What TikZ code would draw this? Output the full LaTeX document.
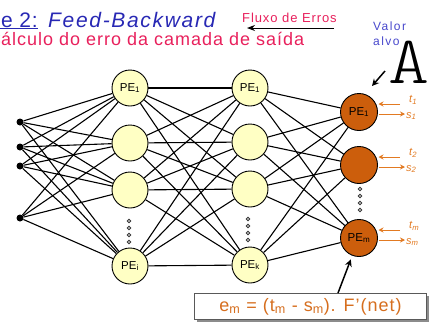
\documentclass[tikz,border=0pt]{standalone}
\usepackage{fontspec}
\setmainfont{Liberation Sans}
\newfontfamily\Alight{lmmonolt10-regular.otf}
\usetikzlibrary{arrows.meta,backgrounds,calc,shadows}
\definecolor{pebg}{RGB}{255,255,196}
\definecolor{outfill}{RGB}{204,94,12}
\definecolor{orangeA}{RGB}{226,122,34}
\definecolor{titleblue}{RGB}{40,40,180}
\definecolor{pinkred}{RGB}{232,32,92}
\definecolor{valblue}{RGB}{72,72,204}
\definecolor{formorange}{RGB}{214,110,30}
\tikzset{
  hid/.style={circle, draw=black, line width=0.9pt, fill=pebg, minimum size=36pt, inner sep=0pt, font=\fontsize{11.5}{11.5}\selectfont},
  outn/.style={hid, fill=outfill, minimum size=37pt},
  inp/.style={circle, fill=black, minimum size=7pt, inner sep=0pt},
  conn/.style={line width=1.1pt},
  vdot/.style={circle, draw=black!80, line width=0.9pt, minimum size=3.5pt, inner sep=0pt},
  tarrow/.style={draw=orangeA, line width=1pt, -{Stealth[length=5pt,width=5pt]}},
  tlab/.style={text=orangeA, font=\fontsize{11}{11}\selectfont\itshape, inner sep=0pt, anchor=west},
  blackarrow/.style={line width=1.5pt, -{Stealth[length=7pt,width=7pt]}}
}
\begin{document}
\begin{tikzpicture}[x=1pt,y=-1pt]
\useasboundingbox (0,0) rectangle (432,330);
% titles
\node[anchor=base west, inner sep=0pt, text=titleblue, font=\fontsize{21}{21}\selectfont\addfontfeatures{LetterSpace=4}] (t1) at (-10.5,27) {\llap{\underline{Fa}}\underline{se 2:}};
\node[anchor=base west, inner sep=0pt, text=titleblue, font=\fontsize{21}{21}\selectfont\itshape\addfontfeatures{LetterSpace=8}] (t2) at (48,27) {Feed-Backward};
\node[anchor=base west, inner sep=0pt, text=pinkred, font=\fontsize{18}{18}\selectfont\addfontfeatures{LetterSpace=5.5}] (t3) at (1,45) {\llap{C}álculo do erro da camada de saída};
\node[anchor=base west, inner sep=0pt, text=pinkred, font=\fontsize{13}{13}\selectfont\addfontfeatures{LetterSpace=7}] (flux) at (242,22) {Fluxo de Erros};
\coordinate (fl1) at (334,28);
\coordinate (fl2) at (247,28);
\draw[line width=1pt, -{Stealth[length=8pt,width=6pt]}] (fl1) -- (fl2);
\node[anchor=base west, inner sep=0pt, text=valblue, font=\fontsize{12}{12}\selectfont\addfontfeatures{LetterSpace=12}] (val) at (373,30) {Valor};
\node[anchor=base west, inner sep=0pt, text=valblue, font=\fontsize{12}{12}\selectfont\addfontfeatures{LetterSpace=12}] (alvo) at (373,45) {alvo};
\node[anchor=south, inner sep=0pt] (bigA) at (409.5,84) {\scalebox{1.15}[1]{\fontsize{68}{68}\Alight A}};
\coordinate (aa1) at (385,71);
\coordinate (aa2) at (372,86);
\draw[blackarrow] (aa1) -- (aa2);
% input
\node[inp] (i1) at (20,122) {};
\node[inp] (i2) at (20,147) {};
\node[inp] (i3) at (20,166) {};
\node[inp] (i4) at (20,218) {};
% hidden 1
\node[hid] (h1) at (130,88) {PE\textsubscript{1}};
\node[hid] (h2) at (130,143) {};
\node[hid] (h3) at (130,190) {};
\node[hid] (h4) at (130,266) {PE\textsubscript{i}};
% hidden 2
\node[hid] (g1) at (250,88) {PE\textsubscript{1}};
\node[hid] (g2) at (250,142) {};
\node[hid] (g3) at (250,189) {};
\node[hid] (g4) at (250,265) {PE\textsubscript{k}};
% output
\node[outn] (o1) at (359,112) {PE\textsubscript{1}};
\node[outn] (o2) at (359,165) {};
\node[outn] (o3) at (359,238) {PE\textsubscript{m}};
% vertical dots
\foreach \y [count=\n] in {221,228,235,242} \node[vdot] (da\n) at (129,\y) {};
\foreach \y [count=\n] in {219,226,233,240} \node[vdot] (db\n) at (248,\y) {};
\foreach \y [count=\n] in {189,196,203,210} \node[vdot] (dc\n) at (360,\y) {};
% connections
\begin{scope}[on background layer]
\foreach \a in {i1,i2,i3,i4} \foreach \b in {h1,h2,h3,h4} \draw[conn] (\a) -- (\b);
\foreach \a in {h1,h2,h3,h4} \foreach \b in {g1,g2,g3,g4} \draw[conn] (\a) -- (\b);
\foreach \a in {g1,g2,g3,g4} \foreach \b in {o1,o2,o3} \draw[conn] (\a) -- (\b);
\end{scope}
% target / output arrows
\foreach \o/\k in {o1/1,o2/2,o3/m} {
  \draw[tarrow] ($(\o)+(41,-8)$) -- ($(\o)+(19.5,-8)$);
  \draw[tarrow] ($(\o)+(19.5,2)$) -- ($(\o)+(46,2)$);
  \node[tlab] (tl\k) at ($(\o)+(50,-12)$) {t\textsubscript{\k}};
  \node[tlab] (sl\k) at ($(\o)+(47,4)$) {s\textsubscript{\k}};
}
% formula box
\node[draw=black!65, line width=1.5pt, fill=white, minimum width=232pt, minimum height=26pt, inner sep=0pt,
      drop shadow={shadow xshift=2.5pt, shadow yshift=-2.5pt, fill=black!45, opacity=1},
      text=formorange, font=\fontsize{18}{18}\selectfont\addfontfeatures{LetterSpace=5.5}] (form) at (310.5,306.5)
      {e\textsubscript{m} = (t\textsubscript{m} - s\textsubscript{m}). F'(net)};
\coordinate (fa) at (338,293);
\draw[blackarrow, shorten >=4pt] (fa) -- (o3);
\end{tikzpicture}
\end{document}
